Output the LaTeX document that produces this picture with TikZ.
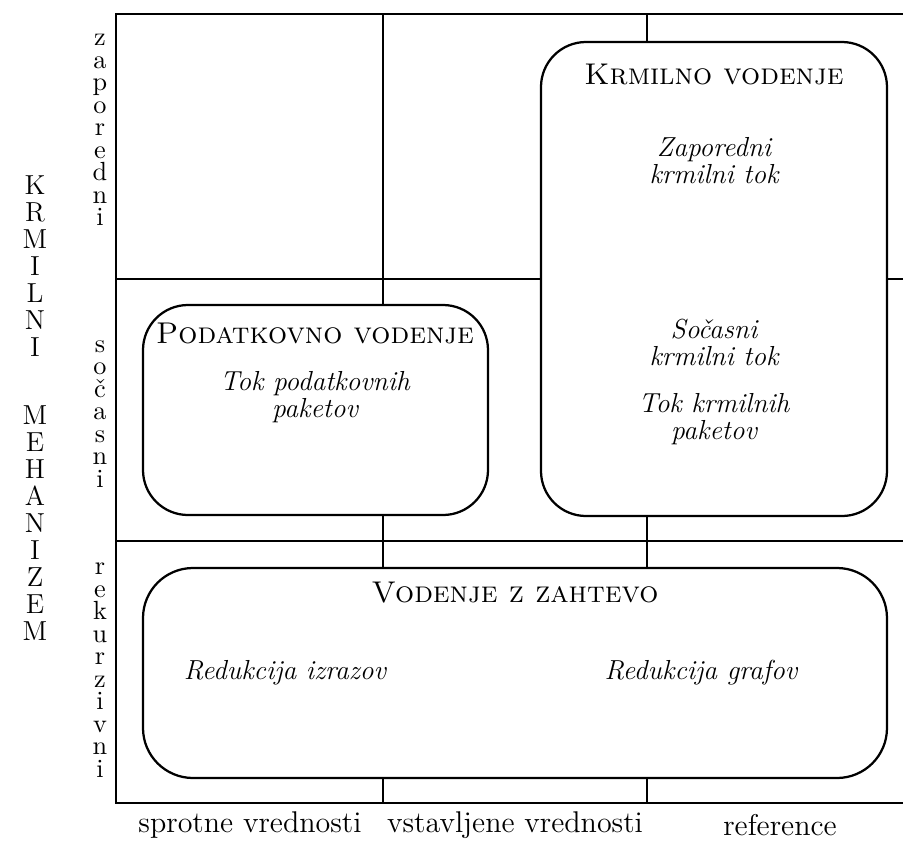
\documentclass[tikz,border=0pt]{standalone}
\begin{document}
\begin{tikzpicture}[x=0.4pt,y=-0.4pt,
  gridline/.style={line width=0.6pt},
  boxline/.style={draw,line width=0.9pt,fill=white,rounded corners=18pt},
  itx/.style={font=\fontsize{11}{10.8}\selectfont\itshape,align=center,inner sep=0pt},
  ttl/.style={font=\fontsize{12}{14}\selectfont\scshape,inner sep=0pt},
  stk/.style={font=\fontsize{10.5}{9}\selectfont,align=center,inner sep=0pt},
  bigstk/.style={font=\fontsize{11}{10.8}\selectfont,align=center,inner sep=0pt},
  axlbl/.style={font=\fontsize{12}{14}\selectfont,inner sep=0pt}]
\useasboundingbox (0,0) rectangle (903,842);
% grid
\draw[gridline] (903,14) -- (116,14) -- (116,803) -- (903,803);
\draw[gridline] (116,279) -- (903,279);
\draw[gridline] (116,541) -- (903,541);
\draw[gridline] (383,14) -- (383,803);
\draw[gridline] (647,14) -- (647,803);
% boxes
\draw[boxline] (143,305) rectangle (488,515);
\draw[boxline] (541,42) rectangle (887,516);
\draw[boxline,rounded corners=20pt] (143,568) rectangle (887,778);
% box texts
\node[ttl] (t1) at (714,74) {Krmilno vodenje};
\node[itx] (k1) at (714,161) {Zaporedni\\krmilni tok};
\node[itx] (k2) at (714,342) {Sočasni\\krmilni tok};
\node[itx] (k3) at (714,419) {Tok krmilnih\\paketov};
\node[ttl] (t2) at (315,333) {Podatkovno vodenje};
\node[itx] (p1) at (315,397) {Tok podatkovnih\\paketov};
\node[ttl] (t3) at (515,593) {Vodenje z zahtevo};
\node[itx] (z1) at (285,673) {Redukcija izrazov};
\node[itx] (z2) at (701,673) {Redukcija grafov};
% bottom labels
\node[axlbl] (b1) at (250,825) {sprotne vrednosti};
\node[axlbl] (b2) at (515,825) {vstavljene vrednosti};
\node[axlbl] (b3) at (780,825) {reference};
% left labels
\node[stk] (l1) at (100,130) {z\\a\\p\\o\\r\\e\\d\\n\\i};
\node[stk] (l2) at (100,414) {s\\o\\č\\a\\s\\n\\i};
\node[stk] (l3) at (100,670) {r\\e\\k\\u\\r\\z\\i\\v\\n\\i};
\node[bigstk] (m1) at (35,266) {K\\R\\M\\I\\L\\N\\I};
\node[bigstk] (m2) at (35,523) {M\\E\\H\\A\\N\\I\\Z\\E\\M};
\end{tikzpicture}
\end{document}
